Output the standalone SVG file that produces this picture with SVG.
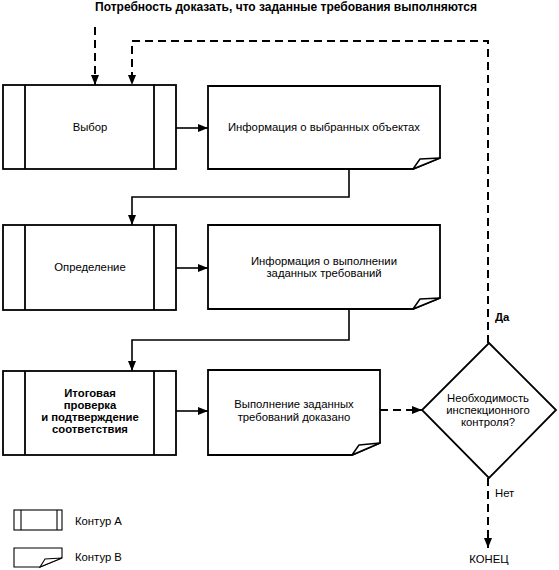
<svg xmlns="http://www.w3.org/2000/svg" width="559" height="570" viewBox="0 0 559 570">
<style>
  text { font-family: "Liberation Sans", Arial, sans-serif; font-size: 11.3px; fill: #000; text-anchor: middle; dominant-baseline: central; }
  .b { font-weight: bold; }
  .l { text-anchor: start; }
  .box { fill: #fff; stroke: #000; stroke-width: 1.8; }
  .in { stroke: #000; stroke-width: 1.8; }
  .flap { fill: #fff; stroke: #000; stroke-width: 1.5; stroke-linejoin: round; }
  .c { fill: none; stroke: #000; stroke-width: 1.6; }
  .d { fill: none; stroke: #000; stroke-width: 2; stroke-dasharray: 8 5; }
  .lg { fill: #fff; stroke: #000; stroke-width: 1.1; }
</style>
<defs>
  <marker id="ah" markerWidth="10" markerHeight="8" refX="10" refY="4" orient="auto" markerUnits="userSpaceOnUse">
    <path d="M0,0 L10,4 L0,8 Z" fill="#000"/>
  </marker>
</defs>

<text id="title" class="b" x="286" y="7" style="font-size:12px">Потребность доказать, что заданные требования выполняются</text>

<g id="connectors">
  <path class="d" d="M95,27 V85" marker-end="url(#ah)"/>
  <path class="d" d="M488,343 V41 H132 V85" marker-end="url(#ah)"/>
  <path class="c" d="M176,128 H208" marker-end="url(#ah)"/>
  <path class="c" d="M349,169 V197 H132 V225" marker-end="url(#ah)"/>
  <path class="c" d="M176,268 H208" marker-end="url(#ah)"/>
  <path class="c" d="M349,309 V340 H132 V371" marker-end="url(#ah)"/>
  <path class="c" d="M176,411 H208" marker-end="url(#ah)"/>
  <path class="d" d="M380,410 H422" marker-end="url(#ah)"/>
  <path class="d" d="M488,478 V548" marker-end="url(#ah)"/>
</g>

<g id="vybor">
  <rect class="box" x="3" y="85" width="173" height="84"/>
  <line class="in" x1="25" y1="85" x2="25" y2="169"/>
  <line class="in" x1="154" y1="85" x2="154" y2="169"/>
  <text x="90" y="127">Выбор</text>
</g>

<g id="info1">
  <path class="box" d="M208,86 H440 V158 L413,169 H208 Z"/>
  <path class="flap" d="M413,169 L420,159 L440,158 Z"/>
  <text x="324" y="127">Информация о выбранных объектах</text>
</g>

<g id="opredelenie">
  <rect class="box" x="3" y="225" width="173" height="85"/>
  <line class="in" x1="25" y1="225" x2="25" y2="310"/>
  <line class="in" x1="154" y1="225" x2="154" y2="310"/>
  <text x="90" y="267">Определение</text>
</g>

<g id="info2">
  <path class="box" d="M208,225 H440 V298 L413,309 H208 Z"/>
  <path class="flap" d="M413,309 L420,299 L440,298 Z"/>
  <text x="324" y="261">Информация о выполнении</text>
  <text x="324" y="273">заданных требований</text>
</g>

<g id="itog">
  <rect class="box" x="3" y="371" width="173" height="84"/>
  <line class="in" x1="25" y1="371" x2="25" y2="455"/>
  <line class="in" x1="154" y1="371" x2="154" y2="455"/>
  <text class="b" x="90" y="393">Итоговая</text>
  <text class="b" x="90" y="405">проверка</text>
  <text class="b" x="90" y="417">и подтверждение</text>
  <text class="b" x="90" y="429">соответствия</text>
</g>

<g id="info3">
  <path class="box" d="M208,370 H380 V443 L352,455 H208 Z"/>
  <path class="flap" d="M352,455 L359,445 L380,443 Z"/>
  <text x="294" y="404">Выполнение заданных</text>
  <text x="294" y="417">требований доказано</text>
</g>

<g id="decision">
  <path class="box" d="M489,343 L556,410 L489,478 L422,410 Z"/>
  <text x="488" y="398">Необходимость</text>
  <text x="488" y="410">инспекционного</text>
  <text x="488" y="422">контроля?</text>
</g>

<text id="da" class="l b" x="495" y="317">Да</text>
<text id="net" class="l" x="495" y="493">Нет</text>
<text id="konec" x="489" y="559">КОНЕЦ</text>

<g id="legendA">
  <rect class="lg" x="14" y="510" width="48" height="20"/>
  <line class="lg" x1="21" y1="510" x2="21" y2="530"/>
  <line class="lg" x1="57" y1="510" x2="57" y2="530"/>
  <text class="l" x="75" y="521">Контур А</text>
</g>

<g id="legendB">
  <path class="lg" d="M14,548 H62 V558 L40,567 H14 Z"/>
  <path class="lg" d="M40,567 L45,559 L62,558 Z"/>
  <text class="l" x="75" y="557">Контур В</text>
</g>
</svg>
